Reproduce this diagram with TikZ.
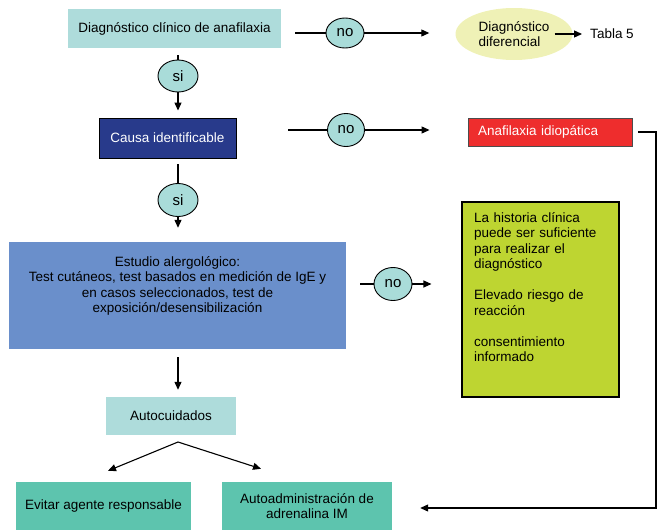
\documentclass[tikz,border=0pt]{standalone}
\usepackage{fontspec}
\setmainfont{Liberation Sans}
\usetikzlibrary{arrows.meta,shapes.geometric}

\definecolor{paleteal}{HTML}{AEDCDB}
\definecolor{navybox}{HTML}{283A8B}
\definecolor{studyblue}{HTML}{6A8FCB}
\definecolor{paleyellow}{HTML}{EFF1B6}
\definecolor{alertred}{HTML}{EE2D2D}
\definecolor{limebox}{HTML}{BED531}
\definecolor{seagreen}{HTML}{5DC4AE}
\definecolor{bubble}{HTML}{A9DCD9}

\tikzset{
  txt/.style={font=\fontsize{13.5}{15.5}\selectfont},
  box/.style={rectangle, inner sep=0pt, align=center, txt},
  answer/.style={ellipse, draw, fill=bubble, line width=0.9pt, inner sep=0pt,
                 font=\fontsize{15}{17}\selectfont},
  flow/.style={line width=1.1pt, -{Triangle[length=8pt,width=7pt]}},
  plain/.style={line width=1.1pt},
}

\begin{document}
\begin{tikzpicture}[x=1pt,y=-1pt]
\path[use as bounding box] (0,0) rectangle (658,530);

% main column
\node[box, fill=paleteal, minimum width=213pt, minimum height=39pt] (diag) at (174.5,28.5)
  {Diagnóstico clínico de anafilaxia};
\node[answer, minimum width=40pt, minimum height=32pt] (si1) at (178,76) {si};
\node[box, fill=navybox, draw=black, line width=0.9pt, text=white,
      minimum width=137pt, minimum height=40pt] (cause) at (167.5,138) {Causa identificable};
\node[answer, minimum width=40pt, minimum height=33pt] (si2) at (178,200) {si};
\node[box, fill=studyblue, minimum width=337pt, minimum height=107pt] (study) at (177.5,295.5) {};
\node[box, anchor=north] (studytext) at (177.5,256)
  {Estudio alergológico:\\Test cutáneos, test basados en medición de IgE y\\
   en casos seleccionados, test de\\exposición/desensibilización};
\node[box, fill=paleteal, minimum width=130pt, minimum height=38pt] (care) at (171,416) {Autocuidados};
\node[box, fill=seagreen, minimum width=175pt, minimum height=48pt] (avoid) at (103.5,506)
  {Evitar agente responsable};
\node[box, fill=seagreen, minimum width=170pt, minimum height=48pt] (admin) at (307,506)
  {Autoadministración de\\adrenalina IM};

% right column
\node[answer, minimum width=38pt, minimum height=30pt] (no1) at (345,33) {no};
\node[ellipse, fill=paleyellow, inner sep=0pt, minimum width=117pt, minimum height=52pt,
      align=left, txt] (ddx) at (514,34) {Diagnóstico\\diferencial};
\node[txt, inner sep=0pt] (tabla) at (612,34) {Tabla 5};
\node[answer, minimum width=37pt, minimum height=33pt] (no2) at (346,130) {no};
\node[rectangle, fill=alertred, draw=black!70, line width=0.9pt, text=white, txt,
      inner xsep=10pt, inner ysep=0pt, text width=144pt, align=left,
      minimum height=28pt] (idio) at (550,132) {Anafilaxia idiopática};
\node[answer, minimum width=38pt, minimum height=33pt] (no3) at (393,284) {no};
\node[rectangle, fill=limebox, draw=black, line width=1.1pt,
      minimum width=157pt, minimum height=195pt] (notes) at (540.5,299.5) {};
\node[txt, anchor=north west, inner sep=0pt, text width=140pt, align=left] (notestext) at (474,212)
  {La historia clínica\\puede ser suficiente\\para realizar el\\diagnóstico\\[15.5pt]
   Elevado riesgo de\\reacción\\[15.5pt]consentimiento\\informado};

% loose ends of connectors
\coordinate (r1) at (295,33);
\coordinate (r2) at (288,130);
\coordinate (r3) at (360,284);
\coordinate (apex) at (178,442);
\coordinate (railtop) at (656,132);
\coordinate (railbot) at (656,508);

% main column connectors
\draw[plain, shorten <=7pt] (si1 |- diag.south) -- (si1);
\draw[flow, shorten >=7pt] (si1) -- (si1 |- cause.north);
\draw[plain, shorten <=6pt] (si2 |- cause.south) -- (si2);
\draw[flow, shorten >=14pt] (si2) -- (si2 |- study.north);
\draw[flow, shorten <=8pt, shorten >=7pt] (si2 |- study.south) -- (si2 |- care.north);
\draw[flow] (apex) -- ([shift={(4.5pt,11pt)}]avoid.north);
\draw[flow] (apex) -- ([shift={(-46pt,13pt)}]admin.north);

% branches to the right
\draw[plain] (r1) -- (no1);
\draw[flow, shorten >=26pt] (no1) -- (no1 -| ddx.west);
\draw[flow, shorten >=8pt] ([xshift=-18pt]ddx.east) -- (tabla.west);
\draw[plain] (r2) -- (no2);
\draw[flow, shorten >=38pt] (no2) -- (no2 -| idio.west);
\draw[plain] (r3) -- (no3);
\draw[flow, shorten >=30pt] (no3) -- (no3 -| notes.west);
\draw[flow, shorten >=28pt] ([xshift=6pt]idio.east) -- (railtop) -- (railbot) -- (railbot -| admin.east);
\end{tikzpicture}
\end{document}
